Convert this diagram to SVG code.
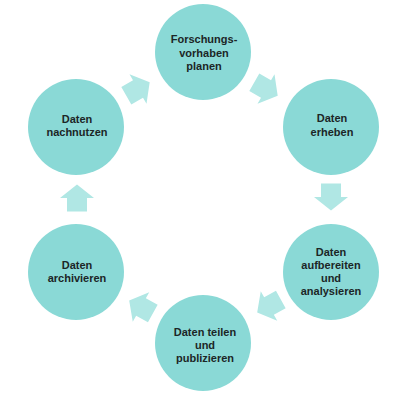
<svg xmlns="http://www.w3.org/2000/svg" width="400" height="400" viewBox="0 0 400 400">
<defs>
<style>
.c{fill:#8ad9d6;}
.a{fill:#b0e7e4;}
.t{font-family:"Liberation Sans",Arial,sans-serif;font-weight:bold;font-size:11px;fill:#1c2626;text-anchor:middle;}
</style>
<path id="arr" d="M-13.5,-10 L0,-10 L0,-17 L13.5,0 L0,17 L0,10 L-13.5,10 Z"/>
</defs>
<rect width="400" height="400" fill="#ffffff"/>
<g id="connectors">
<use href="#arr" class="a" transform="translate(266,89) rotate(30)"/>
<use href="#arr" class="a" transform="translate(331,197) rotate(90)"/>
<use href="#arr" class="a" transform="translate(269,306) rotate(151)"/>
<use href="#arr" class="a" transform="translate(141,307) rotate(209)"/>
<use href="#arr" class="a" transform="translate(77,198) rotate(-90)"/>
<use href="#arr" class="a" transform="translate(138,89) rotate(-30)"/>
</g>
<g id="n1"><circle class="c" cx="203" cy="52" r="48"/>
<text class="t" x="204" y="43">Forschungs-</text><text class="t" x="204" y="57">vorhaben</text><text class="t" x="204" y="70">planen</text></g>
<g id="n2"><circle class="c" cx="331" cy="127" r="48"/>
<text class="t" x="332" y="122">Daten</text><text class="t" x="332" y="136">erheben</text></g>
<g id="n3"><circle class="c" cx="331" cy="272" r="48"/>
<text class="t" x="331" y="256">Daten</text><text class="t" x="331" y="269">aufbereiten</text><text class="t" x="331" y="282">und</text><text class="t" x="331" y="295">analysieren</text></g>
<g id="n4"><circle class="c" cx="203" cy="343" r="48"/>
<text class="t" x="205" y="336">Daten teilen</text><text class="t" x="205" y="349">und</text><text class="t" x="205" y="362">publizieren</text></g>
<g id="n5"><circle class="c" cx="76" cy="272" r="48"/>
<text class="t" x="77" y="269">Daten</text><text class="t" x="77" y="282">archivieren</text></g>
<g id="n6"><circle class="c" cx="76" cy="127" r="48"/>
<text class="t" x="77" y="123">Daten</text><text class="t" x="77" y="136">nachnutzen</text></g>
</svg>
